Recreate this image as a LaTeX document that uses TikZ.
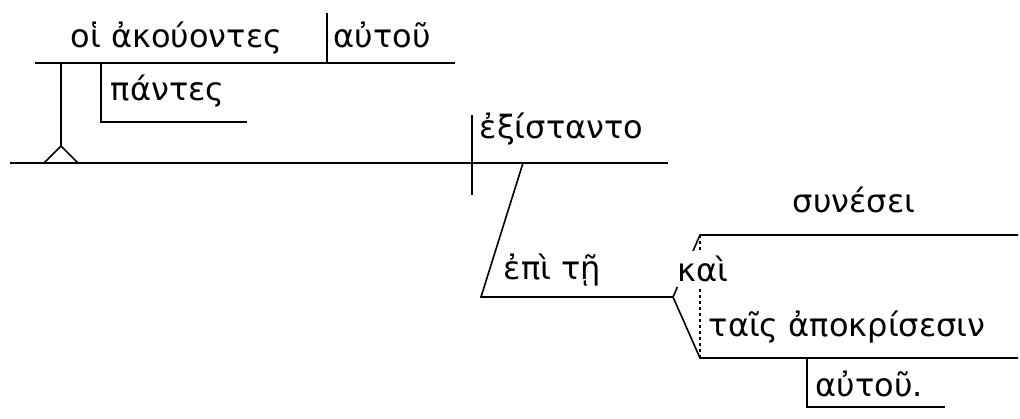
\documentclass[tikz,border=0pt]{standalone}
\usepackage{fontspec}
\setmainfont{DejaVu Sans}
\begin{document}
\begin{tikzpicture}[x=1pt,y=-1pt,line width=1.6pt,
  word/.style={font=\fontsize{32}{38}\selectfont, inner sep=0pt, anchor=base west}]
\useasboundingbox (0,0) rectangle (1020,419);

\coordinate (s1) at (35,63);  \coordinate (s2) at (455,63);
\coordinate (d1) at (327,13); \coordinate (d2) at (327,63);
\coordinate (m1) at (10,163); \coordinate (m2) at (668,163);
\coordinate (st) at (61,63);  \coordinate (sb) at (61,146);
\coordinate (cl) at (44,163); \coordinate (cr) at (78,163);
\draw (s1) -- (s2);  \draw (d1) -- (d2);
\draw (m1) -- (m2);
\draw (st) -- (sb);  \draw (cl) -- (sb) -- (cr);

\node[word] (subj) at (70,48) {οἱ ἀκούοντες};
\node[word] (gen1) at (333,48) {αὐτοῦ};

\coordinate (p1) at (101,63); \coordinate (p2) at (101,122); \coordinate (p3) at (247,122);
\draw (p1) -- (p2) -- (p3);
\node[word] (adj) at (110,101) {πάντες};

\coordinate (v1) at (472,115); \coordinate (v2) at (472,195);
\draw (v1) -- (v2);
\node[word] (verb) at (479,139) {ἐξίσταντο};

\coordinate (q1) at (523,163); \coordinate (q2) at (481,297); \coordinate (q3) at (673,297);
\draw (q1) -- (q2) -- (q3);
\node[word] (prep) at (503,280) {ἐπὶ τῇ};

\coordinate (u1) at (700,235); \coordinate (u2) at (1018,235);
\coordinate (l1) at (700,358); \coordinate (l2) at (1018,358);
\draw (q3) -- (u1) -- (u2);
\draw (q3) -- (l1) -- (l2);
\draw[line width=2.5pt, dash pattern=on 3pt off 3pt] (u1) -- (l1);
\node[word] (obj1) at (792,213) {συνέσει};
\node[word] (obj2) at (708,337) {ταῖς ἀποκρίσεσιν};
\node[word, fill=white, inner xsep=1pt, inner ysep=5pt] (conj) at (676,282) {καὶ};

\coordinate (g1) at (807,358); \coordinate (g2) at (807,407); \coordinate (g3) at (945,407);
\draw (g1) -- (g2) -- (g3);
\node[word] (gen2) at (815,397) {αὐτοῦ.};
\end{tikzpicture}
\end{document}
